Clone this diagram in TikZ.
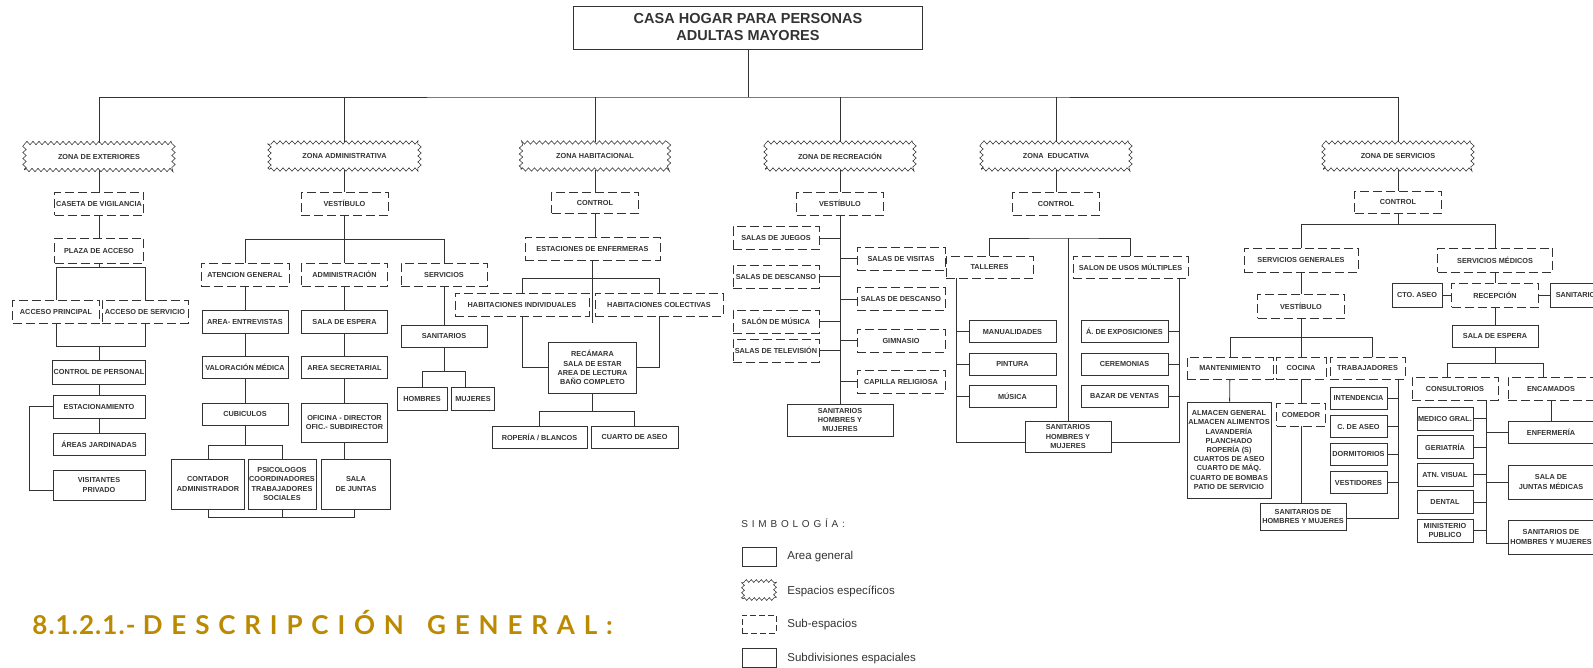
\documentclass[tikz,border=0pt]{standalone}
\usepackage{fontspec}
\setmainfont{Liberation Sans}
\newfontfamily\titnum[LetterSpace=4]{Lato}
\newfontfamily\titsp[LetterSpace=34]{Lato}
\newfontfamily\legsp[LetterSpace=38]{Liberation Sans}
\usetikzlibrary{positioning, calc, decorations.pathmorphing}
\definecolor{ln}{HTML}{333333}
\definecolor{titgold}{HTML}{BC8A00}
\newcommand{\boxfont}{\bfseries\fontsize{7.3}{9.2}\selectfont}

\begin{document}
\begin{tikzpicture}[x=1pt, y=-1pt, color=ln, line width=0.8pt,
    box/.style={draw, font=\boxfont, align=center, inner sep=1pt, minimum height=23},
    sub/.style={box, dash pattern=on 9pt off 4pt},
    zona/.style={box, minimum height=27, line width=0.55pt, decorate, decoration={zigzag, segment length=6pt, amplitude=1.7pt}},
    leg/.style={anchor=west, inner sep=0pt, font=\fontsize{11.5}{13}\selectfont}]
  \useasboundingbox (0,0) rectangle (1593,667);
  \node[box, minimum width=349, minimum height=43, font=\bfseries\fontsize{14.5}{17}\selectfont] (top) at (748,27.5) {CASA HOGAR PARA PERSONAS\\ADULTAS MAYORES};
  \node[zona, minimum width=149] (zext) at (99,156.5) {ZONA DE EXTERIORES};
  \node[zona, minimum width=150] (zadm) at (344.5,156) {ZONA ADMINISTRATIVA};
  \node[zona, minimum width=148] (zhab) at (595,156) {ZONA HABITACIONAL};
  \node[zona, minimum width=149] (zrec) at (840,156) {ZONA DE RECREACIÓN};
  \node[zona, minimum width=149] (zedu) at (1056,156) {ZONA\ \ EDUCATIVA};
  \node[zona, minimum width=149] (zser) at (1398,156) {ZONA DE SERVICIOS};
  \coordinate (tb) at (748,97);
  \draw (top) -- (tb);
  \draw (zext) |- (tb) -| (zser);
  \foreach \z in {zadm,zhab,zrec,zedu} \draw (\z) -- (\z |- tb);

  % exteriores
  \node[sub, minimum width=89] (cas) at (99,203.5) {CASETA DE VIGILANCIA};
  \node[sub, minimum width=89, minimum height=25] (pla) at (99,250.5) {PLAZA DE ACCESO};
  \node[sub, minimum width=87] (acp) at (56,311.5) {ACCESO PRINCIPAL};
  \node[sub, minimum width=86] (acs) at (145,311.5) {ACCESO DE SERVICIO};
  \node[box, minimum width=92, minimum height=24] (cper) at (99,372) {CONTROL DE PERSONAL};
  \node[box, minimum width=92] (est) at (99,406.5) {ESTACIONAMIENTO};
  \node[box, minimum width=92, minimum height=22] (jar) at (99,444) {ÁREAS JARDINADAS};
  \node[box, minimum width=92, minimum height=30] (vis) at (99,485) {VISITANTES\\PRIVADO};
  \draw (zext) -- (cas) -- (pla);
  \draw (pla.south) -- ++(0,4) coordinate (pb);
  \draw (acp) |- (pb) -| (acs);
  \coordinate (ab) at ($(cper.north)+(0,-13)$);
  \draw (acp) |- (ab) -| (acs);
  \draw (ab) -- (cper);
  \draw (cper) -- (est) -- (jar);
  \draw (est.west) -- ++(-23,0) |- ([yshift=-5pt]vis.west);

  % administrativa
  \node[sub, minimum width=87] (vea) at (344.5,203.5) {VESTÍBULO};
  \node[sub, minimum width=88] (atg) at (245,274.5) {ATENCION GENERAL};
  \node[sub, minimum width=86] (adm) at (344.5,274.5) {ADMINISTRACIÓN};
  \node[sub, minimum width=86] (sva) at (444,274.5) {SERVICIOS};
  \draw (zadm) -- (vea) -- (adm);
  \draw (atg) |- ($(vea.south)+(0,24)$) -| (sva);
  \node[box, minimum width=86] (ent) at (245,321.5) {AREA- ENTREVISTAS};
  \node[box, minimum width=86, minimum height=22] (vmd) at (245,367.5) {VALORACIÓN MÉDICA};
  \node[box, minimum width=86, minimum height=22] (cub) at (245,414) {CUBICULOS};
  \draw (atg) -- (ent) -- (vmd) -- (cub);
  \node[box, minimum width=73, minimum height=50] (con) at (208,484) {CONTADOR\\ADMINISTRADOR};
  \node[box, minimum width=68, minimum height=50, inner sep=0.5pt] (psi) at (282,484) {PSICOLOGOS\\COORDINADORES\\TRABAJADORES\\SOCIALES};
  \node[box, minimum width=86] (sal) at (344.5,321.5) {SALA DE ESPERA};
  \node[box, minimum width=86, minimum height=22] (sec) at (344.5,367.5) {AREA SECRETARIAL};
  \node[box, minimum width=86, minimum height=39] (ofi) at (344.5,422.5) {OFICINA - DIRECTOR\\OFIC.- SUBDIRECTOR};
  \node[box, minimum width=69, minimum height=50] (jun) at (356,484) {SALA\\DE JUNTAS};
  \draw (adm) -- (sal) -- (sec) -- (ofi);
  \draw (ofi.south) -- (ofi.south |- jun.north);
  \draw (con) |- ($(cub.south)+(0,20)$) -| (psi);
  \draw (cub) -- ($(cub.south)+(0,20)$);
  \draw (con.south) -- ++(0,8) -| ([xshift=-2pt]jun.south);
  \draw (psi.south) -- ++(0,8);
  \node[box, minimum width=86, minimum height=22] (sna) at (444,336) {SANITARIOS};
  \node[box, minimum width=50] (hom) at (422,398.5) {HOMBRES};
  \node[box, minimum width=43] (muj) at (473,398.5) {MUJERES};
  \draw (sva) -- (sna);
  \draw (hom) |- ($(sna.south)+(0,24)$) -| ([xshift=-8pt]muj.north);
  \draw (sna.south) -- ++(0,24);

  % habitacional
  \node[sub, minimum width=87, minimum height=21] (cth) at (595,202.5) {CONTROL};
  \node[sub, minimum width=135] (enf) at (592.5,248.5) {ESTACIONES DE ENFERMERAS};
  \draw (zhab) -- (cth);
  \draw (cth.south) -- (cth.south |- enf.north);
  \node[sub, minimum width=134] (hin) at (522,304.5) {HABITACIONES INDIVIDUALES};
  \node[sub, minimum width=128] (hco) at (659,304.5) {HABITACIONES COLECTIVAS};
  \draw (hin) |- ($(enf.south)+(0,18)$) -| (hco);
  \node[box, minimum width=88, minimum height=51] (rec) at (592.5,367.5) {RECÁMARA\\SALA DE ESTAR\\AREA DE LECTURA\\BAÑO COMPLETO};
  \coordinate (he) at (592.5,323);
  \draw (enf) -- (he);
  \draw (hin) |- (rec);
  \draw (hco) |- (rec);
  \node[box, minimum width=95, minimum height=22] (rop) at (539.5,437) {ROPERÍA / BLANCOS};
  \node[box, minimum width=87, minimum height=22] (cua) at (634.5,437) {CUARTO DE ASEO};
  \draw (rop) |- ($(rec.south)+(0,18)$) -| (cua);
  \draw (rec) -- ($(rec.south)+(0,18)$);

  % recreacion
  \node[sub, minimum width=87] (ver) at (840,203.5) {VESTÍBULO};
  \node[box, minimum width=106, minimum height=32] (snr) at (840,420) {SANITARIOS\\HOMBRES Y\\MUJERES};
  \draw (zrec) -- (ver) -- (snr);
  \foreach \nm/\yy/\tx in {r1/238/SALAS DE JUEGOS, r2/276.5/SALAS DE DESCANSO, r3/321.5/SALÓN DE MÚSICA, r4/350.5/SALAS DE TELEVISIÓN} {
    \node[sub, minimum width=86] (\nm) at (776,\yy) {\tx};
    \draw (\nm) -- (\nm -| ver);
  }
  \foreach \nm/\yy/\tx in {r5/258.5/SALAS DE VISITAS, r6/299/SALAS DE DESCANSO, r7/340.5/GIMNASIO, r8/381.5/CAPILLA RELIGIOSA} {
    \node[sub, minimum width=88] (\nm) at (901,\yy) {\tx};
    \draw (\nm) -- (\nm -| ver);
  }

  % educativa
  \node[sub, minimum width=87] (cte) at (1056,203.5) {CONTROL};
  \draw (zedu) -- (cte);
  \node[sub, minimum width=87, minimum height=22] (tal) at (989.5,267) {TALLERES};
  \node[sub, minimum width=115, minimum height=22] (sum) at (1130.5,267) {SALON DE USOS MÚLTIPLES};
  \node[box, minimum width=86, minimum height=31] (sne) at (1068,436.5) {SANITARIOS\\HOMBRES Y\\MUJERES};
  \coordinate (eb) at (1068,238);
  \draw (tal) |- (eb) -| (sum);
  \draw (eb) -- (sne);
  \coordinate (ts) at ([xshift=-33pt]tal.south);
  \coordinate (ss) at ([xshift=48.5pt]sum.south);
  \draw (ts) |- ([yshift=-6pt]sne.west);
  \draw (ss) |- ([yshift=-6pt]sne.east);
  \foreach \nm/\yy/\tx in {e1/331.5/MANUALIDADES, e2/364/PINTURA, e3/396/MÚSICA} {
    \node[box, minimum width=87, minimum height=22] (\nm) at (1012.5,\yy) {\tx};
    \draw (\nm) -- (\nm -| ts);
  }
  \foreach \nm/\yy/\tx in {e4/331.5/Á. DE EXPOSICIONES, e5/364/CEREMONIAS, e6/396/BAZAR DE VENTAS} {
    \node[box, minimum width=87, minimum height=22] (\nm) at (1124.5,\yy) {\tx};
    \draw (\nm) -- (\nm -| ss);
  }

  % servicios
  \node[sub, minimum width=87, minimum height=22] (cts) at (1398,202) {CONTROL};
  \draw (zser) -- (cts);
  \node[sub, minimum width=114, minimum height=24] (sge) at (1301,260) {SERVICIOS GENERALES};
  \node[sub, minimum width=115, minimum height=24] (sme) at (1495,260) {SERVICIOS MÉDICOS};
  \draw (sge) |- ($(cts.south)+(0,11)$) -| (sme);
  \draw (cts) -- ($(cts.south)+(0,11)$);
  \node[sub, minimum width=87, minimum height=24] (ves) at (1301,306) {VESTÍBULO};
  \draw (sge) -- (ves);
  \node[sub, minimum width=86, minimum height=22] (man) at (1230,368) {MANTENIMIENTO};
  \node[sub, minimum width=50, minimum height=22] (coc) at (1301,368) {COCINA};
  \node[sub, minimum width=75, minimum height=22] (tra) at (1367.5,368) {TRABAJADORES};
  \draw (man) |- ($(ves.south)+(0,19)$) -| ([xshift=5pt]tra.north);
  \draw (ves) -- (coc);
  \node[box, minimum width=84, minimum height=96, inner sep=0.5pt] (alm) at (1229,450) {ALMACEN GENERAL\\ALMACEN ALIMENTOS\\LAVANDERÍA\\PLANCHADO\\ROPERÍA (S)\\CUARTOS DE ASEO\\CUARTO DE MÁQ.\\CUARTO DE BOMBAS\\PATIO DE SERVICIO};
  \draw (man) -- (alm);
  \node[sub, minimum width=49] (com) at (1301,414.5) {COMEDOR};
  \node[box, minimum width=86, minimum height=27] (sns) at (1303,516.5) {SANITARIOS DE\\HOMBRES Y MUJERES};
  \draw (coc) -- (com);
  \draw (com.south) -- (com.south |- sns.north);
  \coordinate (tsp) at ([xshift=30.5pt]tra.south);
  \draw (tsp) |- ([yshift=-1.5pt]sns.east);
  \foreach \nm/\yy/\tx in {s1/398/INTENDENCIA, s2/426.5/C. DE ASEO, s3/454/DORMITORIOS, s4/482.5/VESTIDORES} {
    \node[box, minimum width=57, minimum height=22] (\nm) at (1358.5,\yy) {\tx};
    \draw (\nm) -- (\nm -| tsp);
  }
  \node[sub, minimum width=87, minimum height=24] (rcp) at (1495,295) {RECEPCIÓN};
  \node[box, minimum width=50, minimum height=24] (cta) at (1417,295) {CTO. ASEO};
  \node[box, minimum width=56, minimum height=24] (snm) at (1578,295) {SANITARIOS};
  \draw (sme) -- (rcp);
  \draw (cta) -- (rcp) -- (snm);
  \node[box, minimum width=86, minimum height=22] (sem) at (1495,336) {SALA DE ESPERA};
  \draw (rcp) -- (sem);
  \node[sub, minimum width=86] (cns) at (1455,388.5) {CONSULTORIOS};
  \node[sub, minimum width=86] (enc) at (1551,388.5) {ENCAMADOS};
  \draw ([xshift=-8pt]cns.north) |- ($(sem.south)+(0,16)$) -| ([xshift=-8pt]enc.north);
  \draw (sem) -- ($(sem.south)+(0,16)$);
  \coordinate (csp) at ([xshift=31pt]cns.south);
  \foreach \nm/\yy/\tx in {m1/418.5/MEDICO GRAL., m2/447/GERIATRÍA, m3/474.5/ATN. VISUAL, m4/502/DENTAL} {
    \node[box, minimum width=56] (\nm) at (1445,\yy) {\tx};
    \draw (\nm) -- (\nm -| csp);
  }
  \node[box, minimum width=56] (m5) at (1445,530.5) {MINISTERIO\\PUBLICO};
  \draw (m5) -- (m5 -| csp);
  \node[box, minimum width=86, minimum height=22] (enm) at (1551,432) {ENFERMERÍA};
  \node[box, minimum width=86, minimum height=34] (jum) at (1551,482) {SALA DE\\JUNTAS MÉDICAS};
  \node[box, minimum width=86, minimum height=34] (shm) at (1551,537) {SANITARIOS DE\\HOMBRES Y MUJERES};
  \draw (enc) -- (enm);
  \draw (csp) |- ([yshift=-6pt]shm.west);
  \draw (enm) -- (enm -| csp);
  \draw (jum) -- (jum -| csp);

  % simbologia
  \node[anchor=west, inner sep=0pt, font=\legsp\fontsize{10}{12}\selectfont] (sim) at (741,523) {SIMBOLOGÍA:};
  \node[box, minimum width=34, minimum height=19] (l1) at (759,556.5) {};
  \node[zona, minimum width=32, minimum height=18, decoration={zigzag, segment length=5pt, amplitude=1.4pt}] (l2) at (759,590) {};
  \node[sub, minimum width=34, minimum height=18, dash pattern=on 6pt off 3pt] (l3) at (759,624) {};
  \node[box, minimum width=34, minimum height=19] (l4) at (759,658) {};
  \node[leg] (t1) at (787,557) {Area general};
  \node[leg] (t2) at (787,591) {Espacios específicos};
  \node[leg] (t3) at (787,625) {Sub-espacios};
  \node[leg] (t4) at (787,659) {Subdivisiones espaciales};

  \node[anchor=west, inner sep=0pt, text=titgold, font=\bfseries\fontsize{26}{30}\selectfont] (tit) at (32,622) {\titnum 8.1.2.1.- \titsp DESCRIPCIÓN\hspace{8pt} GENERAL:};
\end{tikzpicture}
\end{document}
